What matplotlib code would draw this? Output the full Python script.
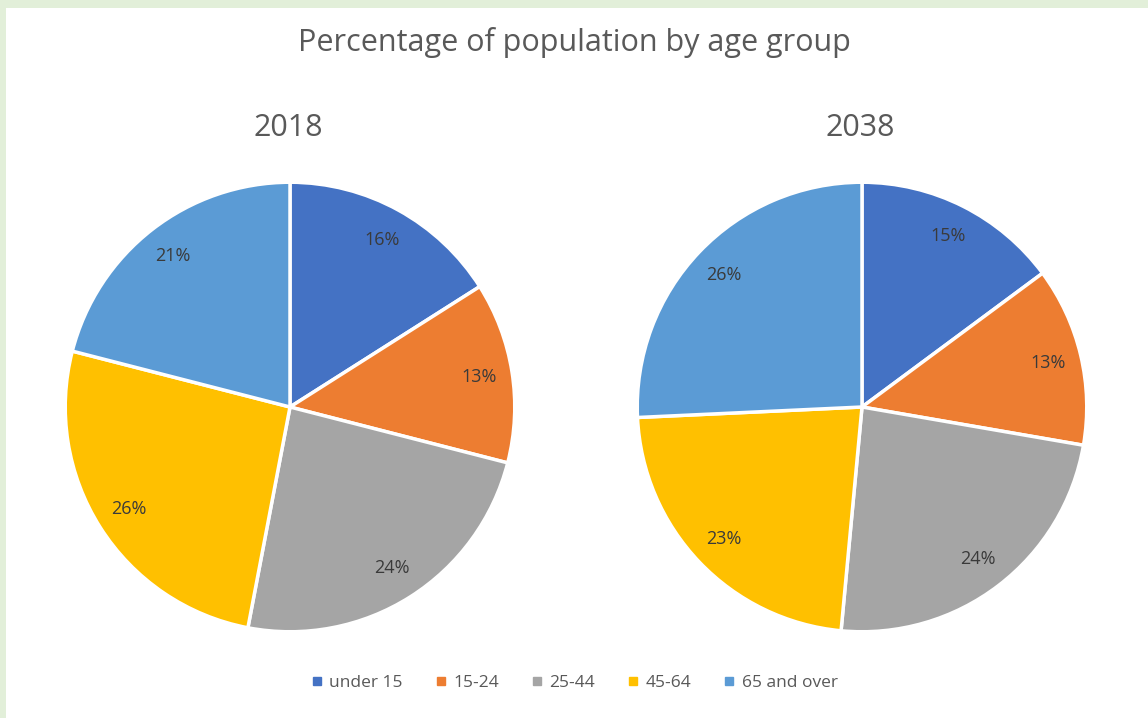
import matplotlib.pyplot as plt
from matplotlib.patches import Rectangle
from matplotlib.lines import Line2D

# data
groups = ["under 15", "15-24", "25-44", "45-64", "65 and over"]
pct_2018 = [16, 13, 24, 26, 21]
pct_2038 = [15, 13, 24, 23, 26]
years = ["2018", "2038"]
colors = ["#4472C4", "#ED7D31", "#A5A5A5", "#FFC000", "#5B9BD5"]

plt.rcParams['font.family'] = ['Open Sans', 'DejaVu Sans']

W, H = 1148, 718
fig = plt.figure(figsize=(W / 100, H / 100), dpi=100, facecolor="#e2efd9")
# white chart area inside the green frame
fig.patches.append(Rectangle((6 / W, 0), 1, (H - 8) / H, transform=fig.transFigure,
                             facecolor="white", edgecolor="none", zorder=-10))

fig.text(0.5, 1 - 42 / H, "Percentage of population by age group", ha="center", va="center",
         fontsize=22, color="#595959")

r = 227
for (cx, cy), vals, yr in zip([(290, 407), (862, 407)], [pct_2018, pct_2038], years):
    ax = fig.add_axes([(cx - r) / W, (H - cy - r) / H, 2 * r / W, 2 * r / H])
    ax.patch.set_visible(False)
    wedges, texts = ax.pie(vals, colors=colors, startangle=90, counterclock=False,
                           labels=[f"{v}%" for v in vals], labeldistance=0.85,
                           wedgeprops=dict(edgecolor="white", linewidth=2.5),
                           textprops=dict(fontsize=13, color="#3a3a3a", ha="center", va="center"))
    ax.set_xlim(-1.01, 1.01)
    ax.set_ylim(-1.01, 1.01)
    ax.set_aspect("equal")
    ax.axis("off")
    fig.text((cx - 2) / W, 1 - 128 / H, yr, ha="center", va="center", fontsize=22, color="#595959")

handles = [Line2D([], [], marker="s", linestyle="none", markersize=6, color=c) for c in colors]
fig.legend(handles, groups, loc="center", bbox_to_anchor=(0.5, 1 - 683 / H), ncol=5,
           frameon=False, fontsize=12.5, labelcolor="#595959", handletextpad=0.3,
           columnspacing=1.8, handlelength=0.8)

fig.savefig("out.png", dpi=100, facecolor=fig.get_facecolor())
